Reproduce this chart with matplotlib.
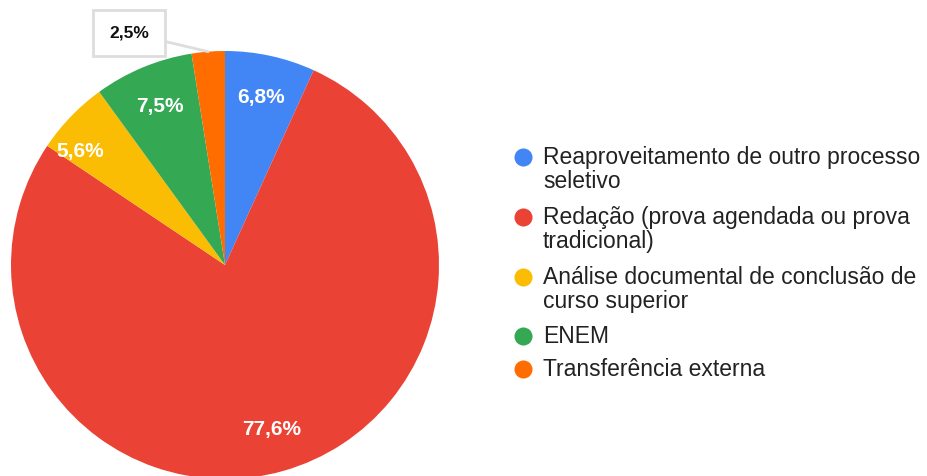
import numpy as np
import matplotlib
matplotlib.use("Agg")
import matplotlib.pyplot as plt

# Data
labels = [
    "Reaproveitamento de outro processo\nseletivo",
    "Redação (prova agendada ou prova\ntradicional)",
    "Análise documental de conclusão de\ncurso superior",
    "ENEM",
    "Transferência externa",
]
values = [6.8, 77.6, 5.6, 7.5, 2.5]
colors = ["#4285F4", "#EA4335", "#FBBC04", "#34A853", "#FF6D01"]
value_text = ["6,8%", "77,6%", "5,6%", "7,5%", "2,5%"]

W, H = 927, 476
fig = plt.figure(figsize=(W / 100, H / 100), dpi=100)
ax = fig.add_axes([0, 0, 1, 1])

cx, cy, R = 225, H - 265, 214
wedges, _ = ax.pie(values, colors=colors, startangle=90, counterclock=False,
                   center=(cx, cy), radius=R,
                   wedgeprops=dict(linewidth=0))
ax.set_xlim(0, W)
ax.set_ylim(0, H)
ax.set_aspect("equal")
ax.axis("off")

# labels inside slices (small slice boxed outside, like the original)
label_dist = [0.8, 0.8, 0.86, 0.8]
angle_shift = [0, 0, 6, 0]
for i, w in enumerate(wedges):
    mid = np.deg2rad((w.theta1 + w.theta2) / 2)
    if values[i] < 5:
        ex, ey = cx + R * np.cos(mid), cy + R * np.sin(mid)
        ax.annotate(value_text[i], xy=(ex, ey), xytext=(129, H - 33),
                    ha="center", va="center", fontsize=12.5, fontweight="bold",
                    family="Liberation Sans", color="#111111",
                    bbox=dict(boxstyle="square,pad=0.9", fc="white",
                              ec="#dddddd", lw=2),
                    arrowprops=dict(arrowstyle="-", color="#dddddd", lw=2,
                                    shrinkA=0, shrinkB=0))
        continue
    a = mid + np.deg2rad(angle_shift[i])
    d = label_dist[i] * R
    ax.text(cx + d * np.cos(a), cy + d * np.sin(a), value_text[i],
            ha="center", va="center", color="white", fontsize=15,
            fontweight="bold", family="Liberation Sans")

# legend drawn by hand so markers sit on the first line
baselines = [164, 224, 284, 343, 376]
line_step = 24
for lab, col, b in zip(labels, colors, baselines):
    n = lab.count("\n")
    ax.plot([523], [H - b + 7], "o", ms=13, color=col, mec="none")
    # multi-line text sits on its last baseline
    ax.text(543, H - (b + n * line_step), lab, ha="left", va="baseline",
            fontsize=16.5, family="Liberation Sans", color="#222222",
            linespacing=1.03)

fig.savefig("out.png", dpi=100, facecolor="white")
